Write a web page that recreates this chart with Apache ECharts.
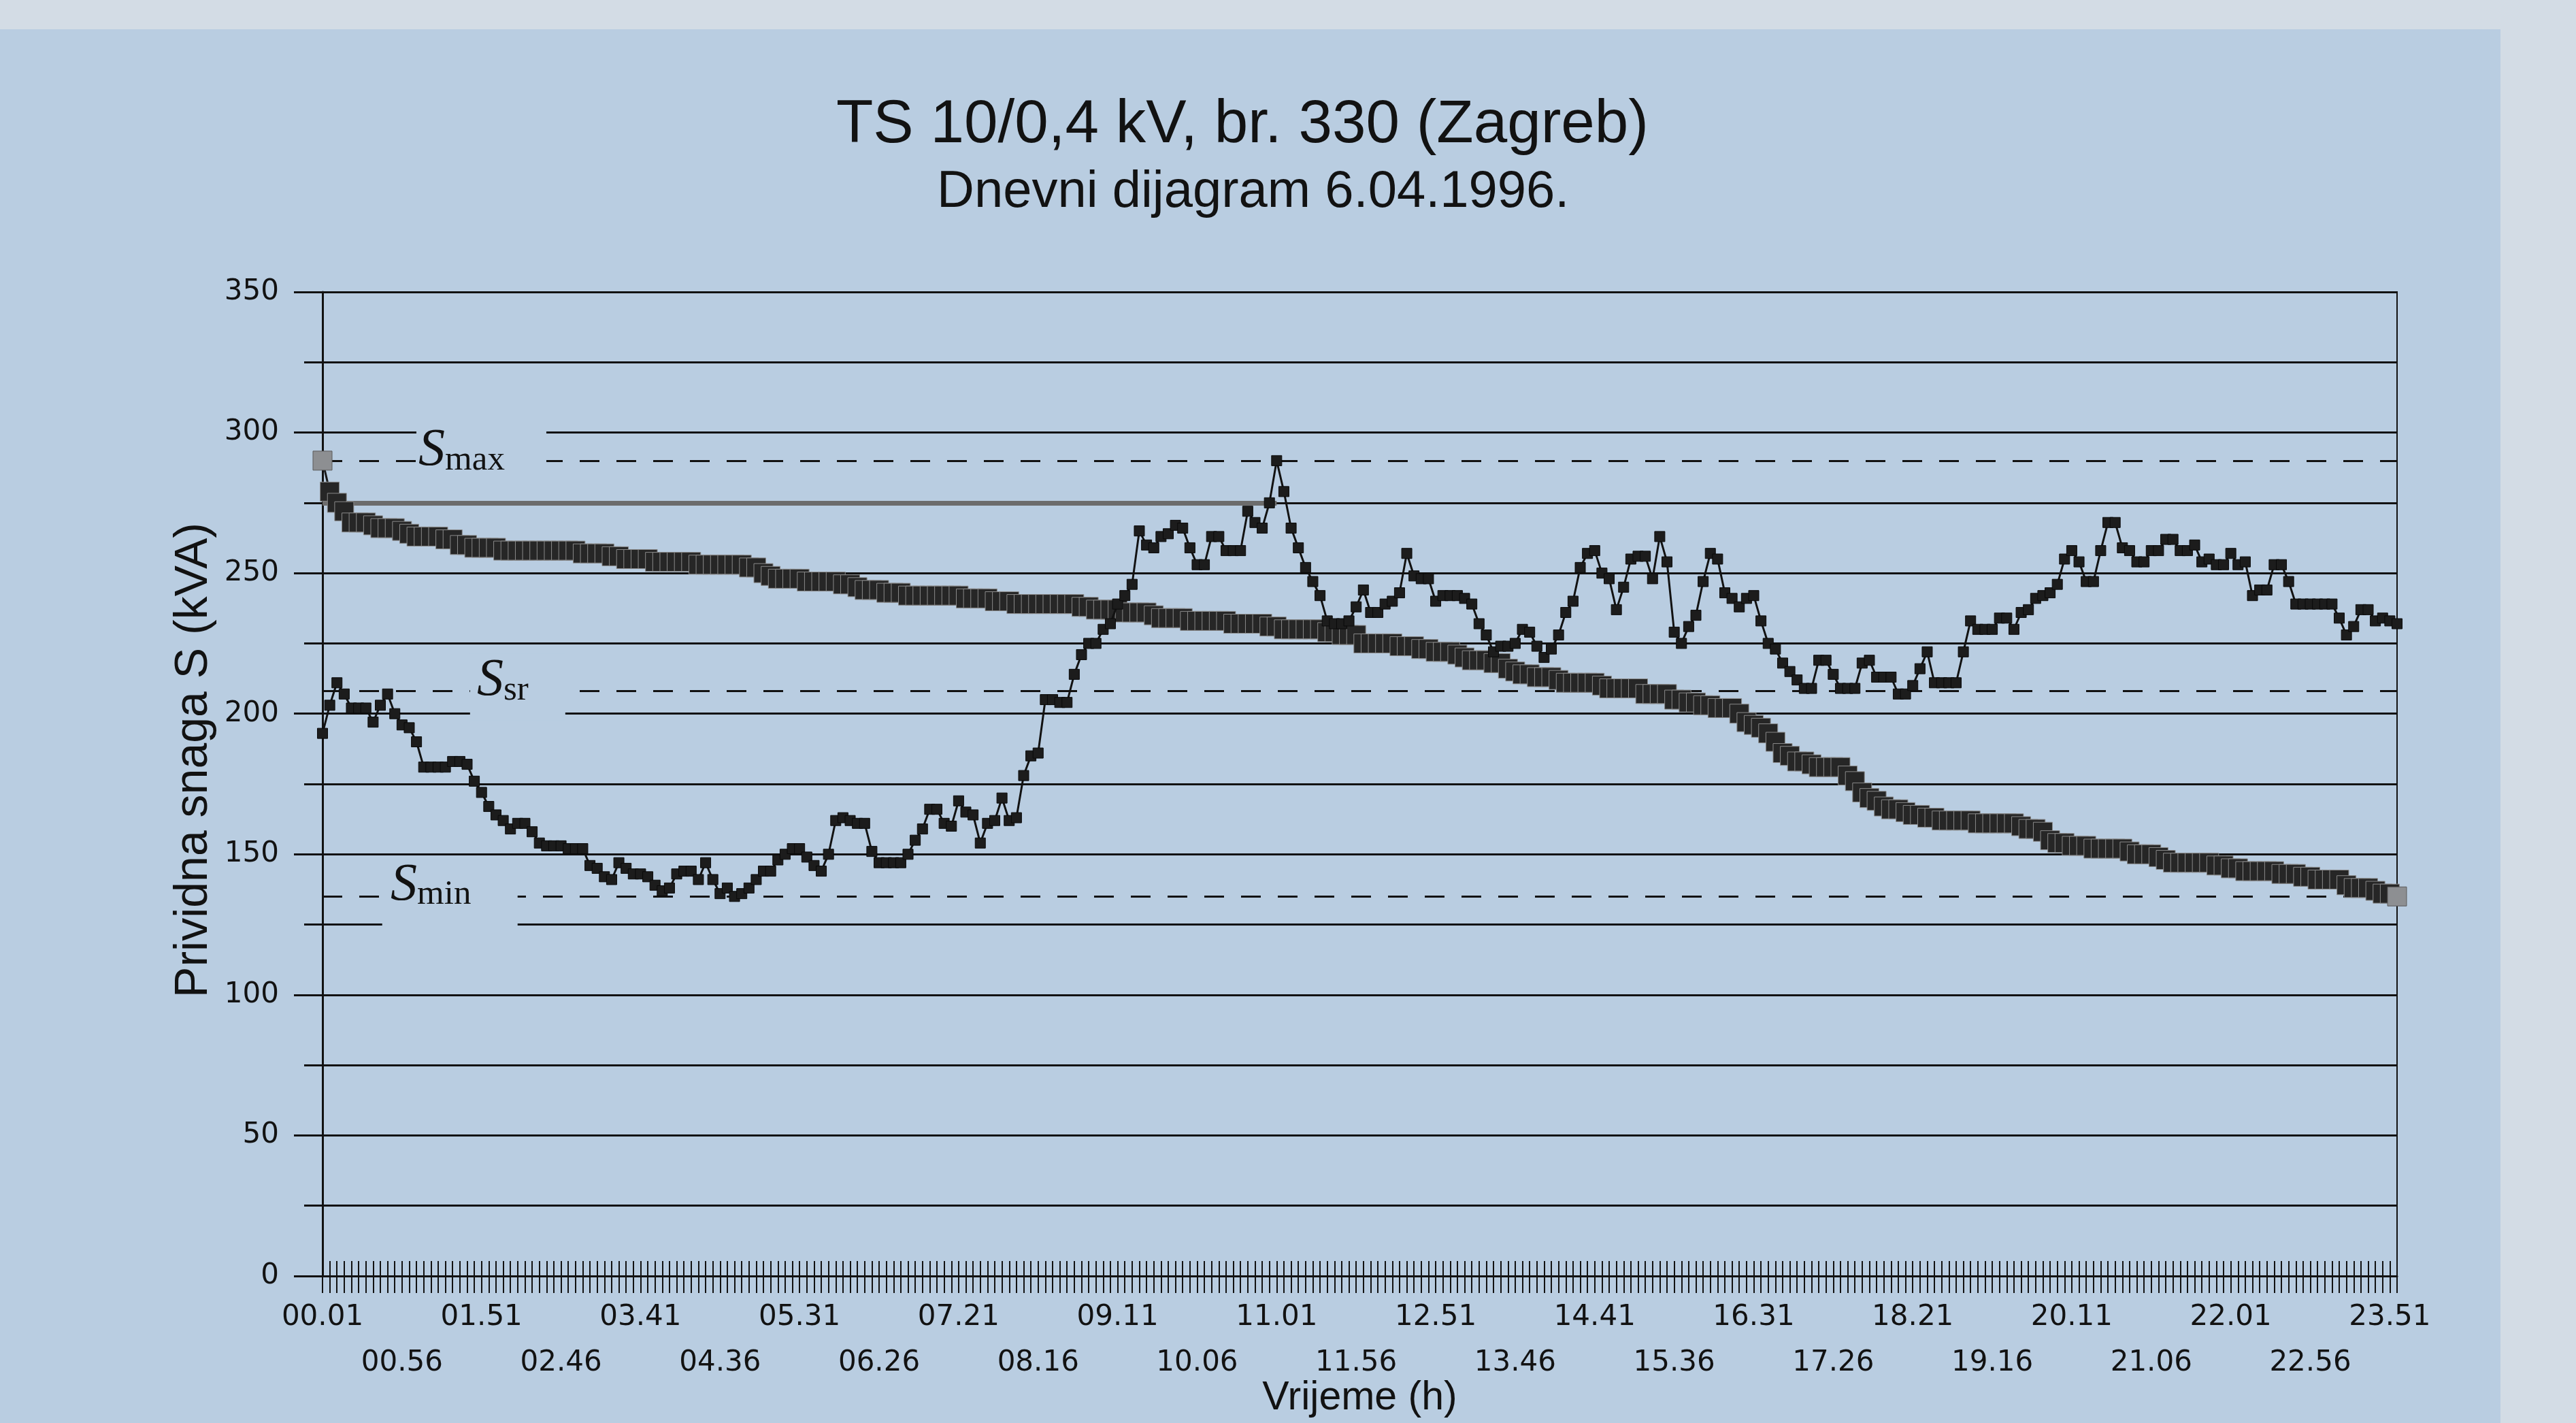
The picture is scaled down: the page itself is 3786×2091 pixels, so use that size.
<!DOCTYPE html>
<html>
<head>
<meta charset="utf-8">
<script src="https://cdn.jsdelivr.net/npm/echarts@6/dist/echarts.min.js"></script>
<style>
html,body{margin:0;padding:0;background:#d3dce5;}
#chart{width:3786px;height:2091px;}
</style>
</head>
<body>
<div id="chart"></div>
<script>
// ---------- texts ----------
const titleText = 'TS 10/0,4 kV, br. 330 (Zagreb)';
const subtitleText = 'Dnevni dijagram 6.04.1996.';
const yAxisName = 'Prividna snaga S (kVA)';
const xAxisName = 'Vrijeme (h)';

// ---------- categories (5-minute samples, 00.01 ... 23.56) ----------
const timeCategories = [];
for (let m = 1; m < 1440; m += 5) {
  const h = Math.floor(m / 60), mm = m % 60;
  timeCategories.push(String(h).padStart(2, '0') + '.' + String(mm).padStart(2, '0'));
}
// tick labels that are printed: upper row and lower row
const upperTimeLabels = ['00.01','01.51','03.41','05.31','07.21','09.11','11.01','12.51','14.41',
  '16.31','18.21','20.11','22.01','23.51'];
const lowerTimeLabels = ['00.56','02.46','04.36','06.26','08.16','10.06','11.56','13.46','15.36',
  '17.26','19.16','21.06','22.56'];

// ---------- y axis ----------
const yMin = 0, yMax = 350, yStep = 50;

// ---------- daily load S (kVA), one value every 5 minutes ----------
const dailyLoad = [
  193,203,211,207,202,202,202,197,203,207,
  200,196,195,190,181,181,181,181,183,183,
  182,176,172,167,164,162,159,161,161,158,
  154,153,153,153,152,152,152,146,145,142,
  141,147,145,143,143,142,139,137,138,143,
  144,144,141,147,141,136,138,135,136,138,
  141,144,144,148,150,152,152,149,146,144,
  150,162,163,162,161,161,151,147,147,147,
  147,150,155,159,166,166,161,160,169,165,
  164,154,161,162,170,162,163,178,185,186,
  205,205,204,204,214,221,225,225,230,232,
  239,242,246,265,260,259,263,264,267,266,
  259,253,253,263,263,258,258,258,272,268,
  266,275,290,279,266,259,252,247,242,233,
  232,232,233,238,244,236,236,239,240,243,
  257,249,248,248,240,242,242,242,241,239,
  232,228,222,224,224,225,230,229,224,220,
  223,228,236,240,252,257,258,250,248,237,
  245,255,256,256,248,263,254,229,225,231,
  235,247,257,255,243,241,238,241,242,233,
  225,223,218,215,212,209,209,219,219,214,
  209,209,209,218,219,213,213,213,207,207,
  210,216,222,211,211,211,211,222,233,230,
  230,230,234,234,230,236,237,241,242,243,
  246,255,258,254,247,247,258,268,268,259,
  258,254,254,258,258,262,262,258,258,260,
  254,255,253,253,257,253,254,242,244,244,
  253,253,247,239,239,239,239,239,239,234,
  228,231,237,237,233,234,233,232
];
// load duration curve = the same measurements ordered from largest to smallest
const loadDuration = dailyLoad.slice().sort((a, b) => b - a);

// ---------- characteristic levels ----------
const levelNames = ['max', 'sr', 'min'];
const levelValues = [290, 208, 135];
const greyLineValue = 275;
const greyLineEndIndex = 132;

// ---------- styling ----------
const PANEL = '#b9cde1';
const INK = '#121212';

const chart = echarts.init(document.getElementById('chart'), null, {renderer: 'canvas'});

const levelBoxes = [
  {name: levelNames[0], coord: [20, levelValues[0]], size: [191, 80], off: [21, -17], lab: [-29, 2]},
  {name: levelNames[1], coord: [27, levelValues[1]], size: [140, 98], off: [0, -6],  lab: [-22, -10]},
  {name: levelNames[2], coord: [18, levelValues[2]], size: [199, 104], off: [-4, -3], lab: [-28, -14]}
];

const richLabel = {
  s: {fontFamily: 'Liberation Serif', fontStyle: 'italic', fontSize: 78, color: INK, lineHeight: 80, verticalAlign: 'bottom'},
  sub: {fontFamily: 'Liberation Serif', fontSize: 51, color: INK, lineHeight: 50, verticalAlign: 'bottom'}
};

const labelFont = {fontFamily: 'DejaVu Sans', fontSize: 42, color: INK};

const option = {
  animation: false,
  backgroundColor: '#d3dce5',
  graphic: [
    {type: 'rect', z: -10, silent: true, shape: {x: 0, y: 43, width: 3675, height: 2048}, style: {fill: PANEL}}
  ],
  title: [
    {text: titleText, left: 1224, top: 135,
     textStyle: {fontFamily: 'Liberation Sans', fontSize: 89, fontWeight: 'normal', color: INK}},
    {text: subtitleText, left: 1372, top: 240,
     textStyle: {fontFamily: 'Liberation Sans', fontSize: 76, fontWeight: 'normal', color: INK}}
  ],
  grid: {left: 474, right: 263, top: 429, bottom: 216, show: true, outerBoundsMode: 'none',
         containLabel: false,
         borderColor: INK, borderWidth: 2, backgroundColor: 'transparent'},
  xAxis: [
    {
      type: 'category', data: timeCategories, boundaryGap: false, position: 'bottom',
      name: xAxisName, nameLocation: 'middle', nameGap: 150,
      nameTextStyle: {fontFamily: 'Liberation Sans', fontSize: 59, color: INK},
      axisLine: {show: true, lineStyle: {color: INK, width: 3}},
      axisTick: {show: true, interval: 0, length: 25, lineStyle: {color: INK, width: 2}},
      axisLabel: Object.assign({
        interval: (i, v) => upperTimeLabels.indexOf(v) >= 0,
        showMinLabel: true, showMaxLabel: true, margin: 40
      }, labelFont),
      splitLine: {show: false}
    },
    {
      type: 'category', data: timeCategories, boundaryGap: false, position: 'bottom', gridIndex: 0,
      axisLine: {show: false},
      axisTick: {show: true, inside: true, interval: 0, length: 22, lineStyle: {color: INK, width: 2}},
      axisLabel: Object.assign({
        interval: (i, v) => lowerTimeLabels.indexOf(v) >= 0,
        showMinLabel: true, showMaxLabel: true, margin: 107
      }, labelFont),
      splitLine: {show: false}
    }
  ],
  yAxis: {
    type: 'value', min: yMin, max: yMax, interval: yStep,
    name: yAxisName, nameLocation: 'middle', nameGap: 146,
    nameTextStyle: {fontFamily: 'Liberation Sans', fontSize: 68, color: INK, padding: [0, 0, 0, 70]},
    axisLine: {show: true, lineStyle: {color: INK, width: 3}},
    axisTick: {show: true, length: 42, lineStyle: {color: INK, width: 3}},
    minorTick: {show: true, splitNumber: 2, length: 27, lineStyle: {color: INK, width: 3}},
    axisLabel: {fontFamily: 'DejaVu Sans', fontSize: 42, color: INK, margin: 64},
    splitLine: {show: true, lineStyle: {color: INK, width: 3}},
    minorSplitLine: {show: true, lineStyle: {color: INK, width: 3}}
  },
  series: [
    {
      name: 'duration', type: 'line', xAxisIndex: 0, data: loadDuration.map((v, i) =>
        (i === 0 || i === loadDuration.length - 1)
          ? {value: v, itemStyle: {color: '#8d8f92', borderColor: '#5a5a5a'}} : v),
      showSymbol: true, showAllSymbol: true, symbol: 'rect', symbolSize: 28,
      itemStyle: {color: '#262626', borderColor: '#8a8a8a', borderWidth: 1},
      lineStyle: {color: '#1a1a1a', width: 3}, z: 3,
      markLine: {
        silent: true, symbol: 'none', z: 2,
        label: {show: false},
        lineStyle: {color: '#6c6c6c', width: 7, type: 'solid'},
        data: [[{coord: [0, greyLineValue]}, {coord: [greyLineEndIndex, greyLineValue]}]]
      }
    },
    {
      name: 'daily', type: 'line', xAxisIndex: 0, data: dailyLoad,
      showSymbol: true, showAllSymbol: true, symbol: 'rect', symbolSize: 15,
      itemStyle: {color: '#1c1c1c', borderColor: '#0a0a0a', borderWidth: 1},
      lineStyle: {color: INK, width: 3}, z: 4,
      markLine: {
        silent: true, symbol: 'none', z: 3,
        label: {show: false},
        lineStyle: {color: INK, width: 3, type: [29, 25]},
        data: levelValues.map(v => ({yAxis: v}))
      },
      markPoint: {
        silent: true, z: 6,
        data: levelBoxes.map(b => ({
          coord: b.coord, symbol: 'rect', symbolSize: b.size, symbolOffset: b.off,
          itemStyle: {color: PANEL, borderWidth: 0},
          label: {show: true, position: 'inside', offset: b.lab,
                  formatter: '{s|S}{sub|' + b.name + '}', rich: richLabel}
        }))
      }
    }
  ]
};
chart.setOption(option);
</script>
</body>
</html>
